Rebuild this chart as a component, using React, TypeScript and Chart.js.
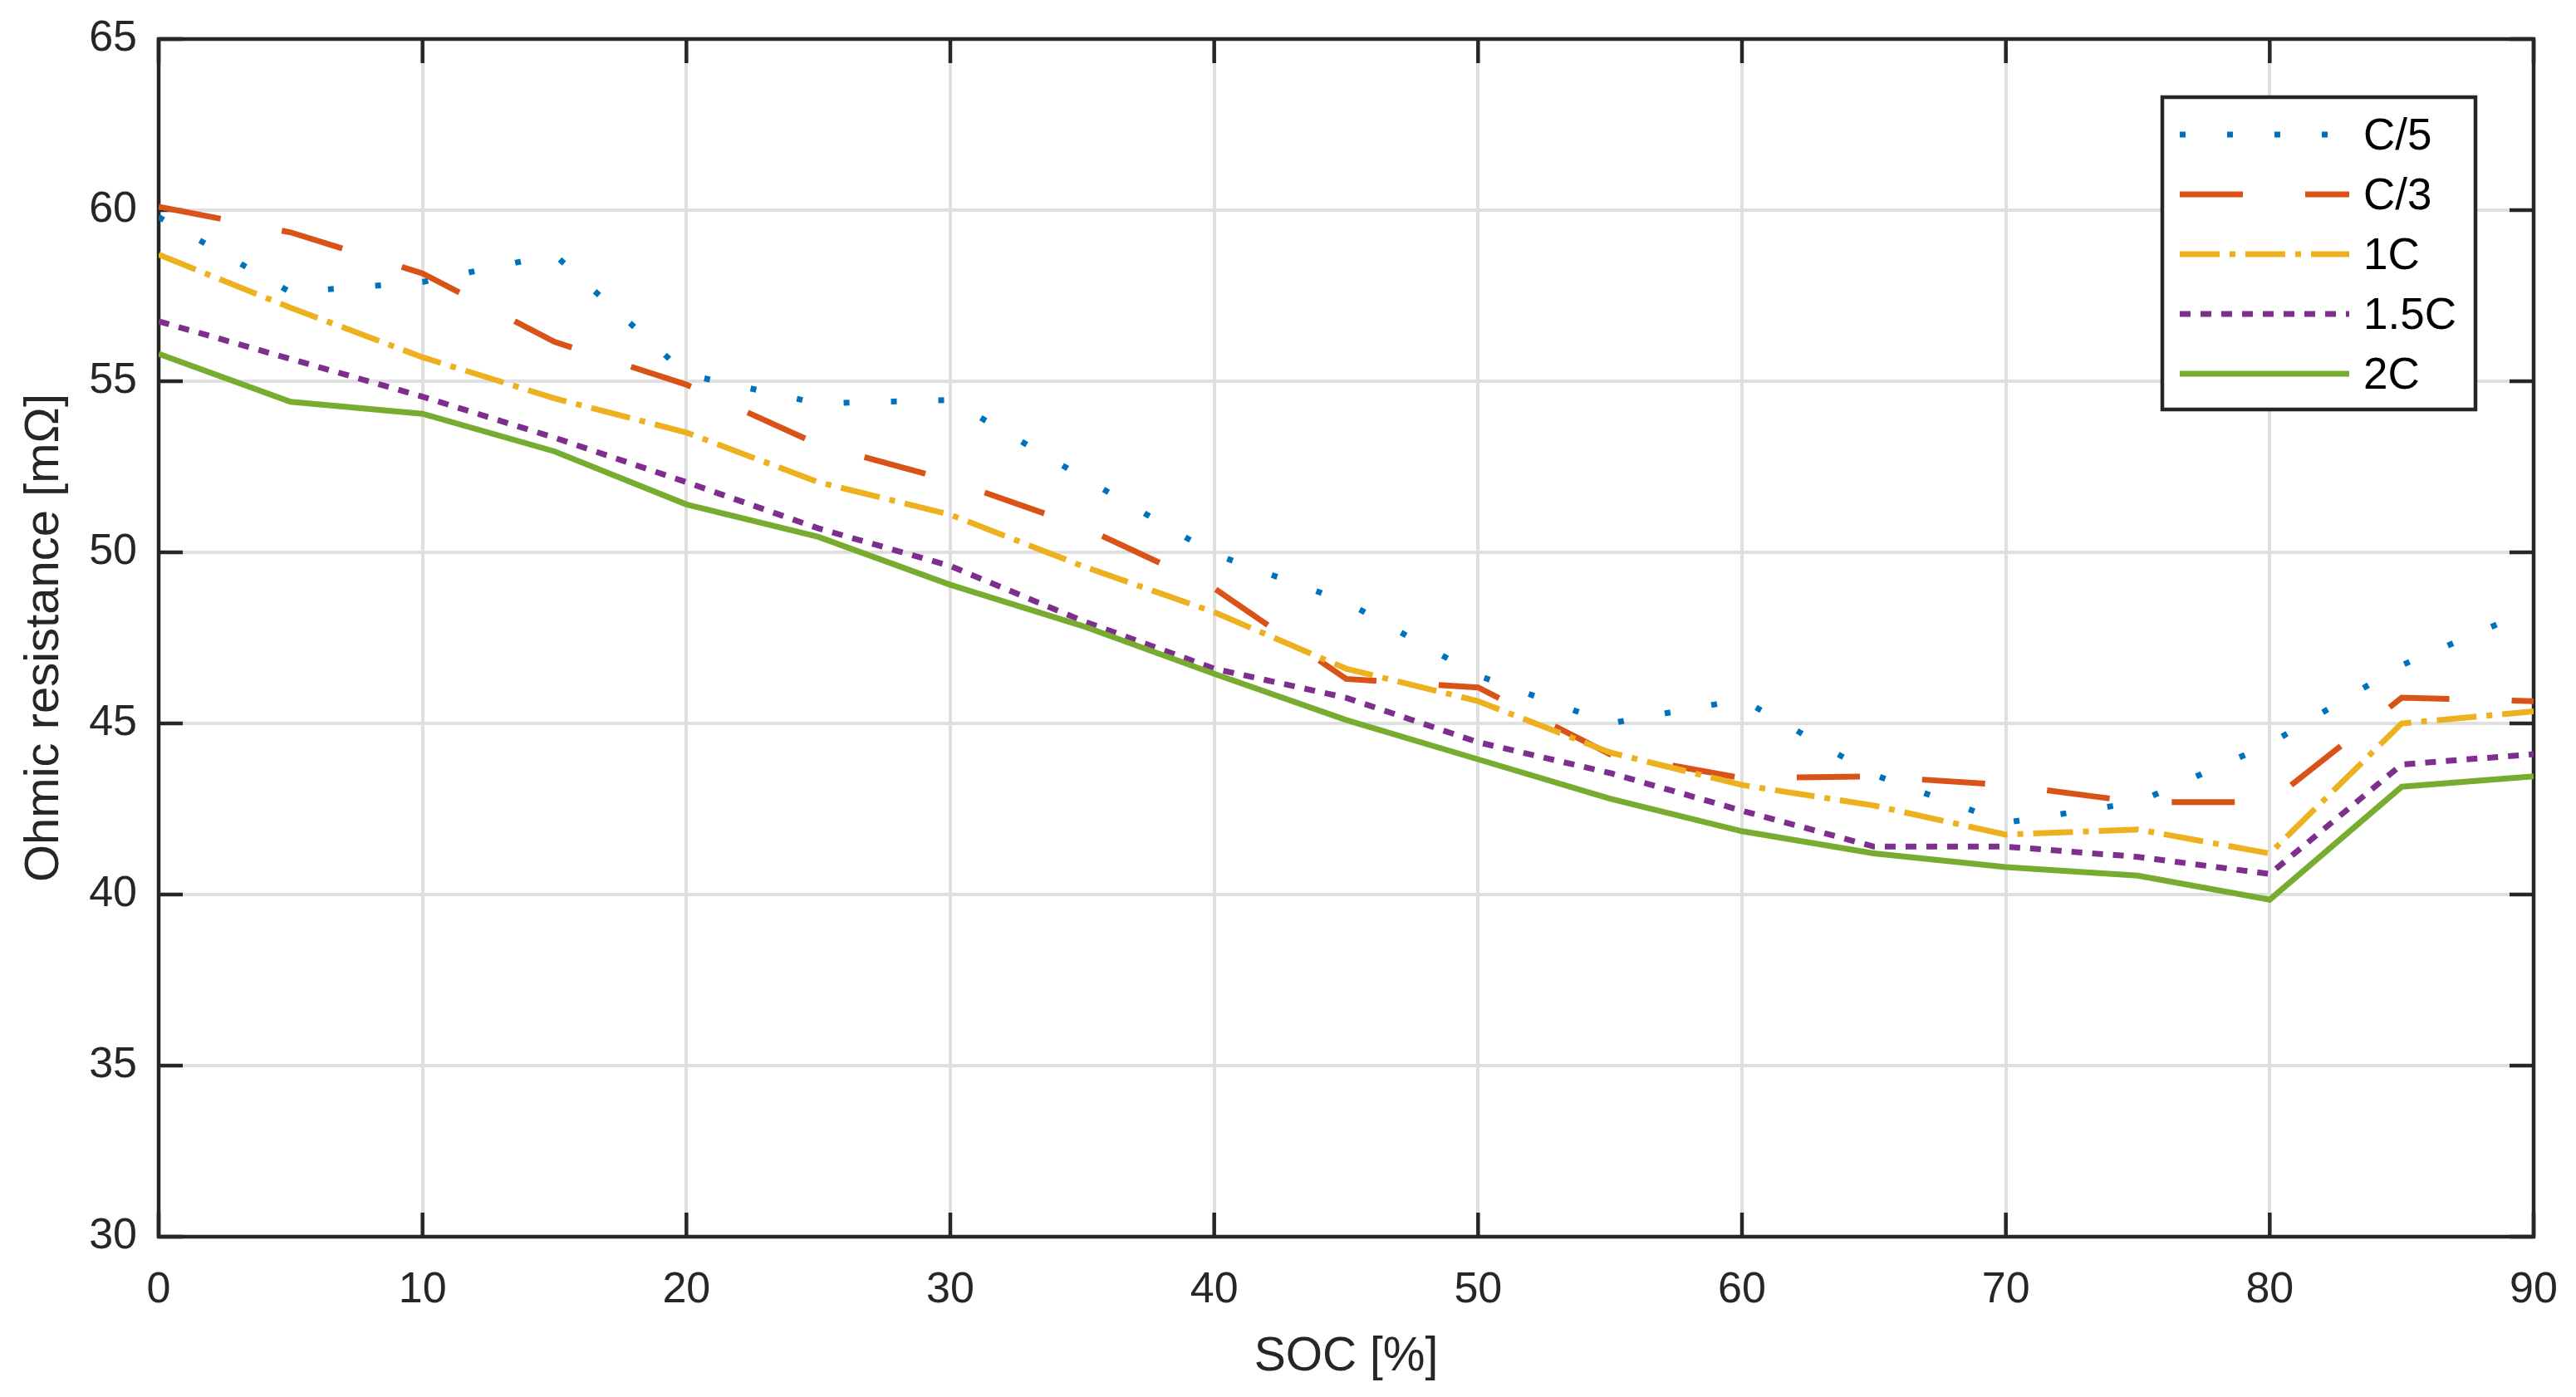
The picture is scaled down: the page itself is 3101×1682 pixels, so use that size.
import { useEffect, useRef } from 'react';
import { Chart, registerables } from 'chart.js';

Chart.register(...registerables);

// SOC [%] sample points
const soc = [0, 5, 10, 15, 20, 25, 30, 35, 40, 45, 50, 55, 60, 65, 70, 75, 80, 85, 90];

// ohmic resistance [mOhm] per C-rate
const rC5 = [59.8, 57.6, 57.9, 58.7, 55.2, 54.35, 54.45, 52.2, 49.95, 48.55, 46.4, 45.0, 45.7, 43.5, 42.1, 42.7, 44.4, 46.7, 48.35];
const rC3 = [60.1, 59.35, 58.15, 56.15, 54.9, 53.15, 52.1, 50.75, 48.95, 46.3, 46.05, 44.1, 43.4, 43.45, 43.2, 42.7, 42.7, 45.75, 45.65];
const r1C = [58.7, 57.15, 55.7, 54.5, 53.5, 52.05, 51.1, 49.6, 48.25, 46.6, 45.65, 44.15, 43.2, 42.6, 41.75, 41.9, 41.2, 45.0, 45.35];
const r15C = [56.75, 55.65, 54.55, 53.35, 52.05, 50.7, 49.6, 48.0, 46.6, 45.75, 44.45, 43.55, 42.45, 41.4, 41.4, 41.1, 40.6, 43.8, 44.1];
const r2C = [55.8, 54.4, 54.05, 52.95, 51.4, 50.45, 49.05, 47.85, 46.45, 45.1, 43.95, 42.8, 41.85, 41.2, 40.8, 40.55, 39.85, 43.15, 43.45];

const seriesNames = ['C/5', 'C/3', '1C', '1.5C', '2C'];
const seriesValues = [rC5, rC3, r1C, r15C, r2C];
const seriesColors = ['#0072BD', '#D95319', '#EDB120', '#7E2F8E', '#77AC30'];
const seriesDashes = [[7, 50], [76, 75], [48, 12, 7, 12], [13, 12], []];

const FONT = '"Liberation Sans", Arial, sans-serif';
const AXIS_COLOR = '#262626';

// box around the axes with inward tick marks, like MATLAB's "box on"
const framePlugin = {
  id: 'frame',
  beforeDatasetsDraw(chart: any) {
    const { ctx, chartArea, scales } = chart;
    const { left, right, top, bottom } = chartArea;
    const tick = 29;
    ctx.save();
    ctx.strokeStyle = AXIS_COLOR;
    ctx.lineWidth = 4.5;
    ctx.beginPath();
    scales.x.ticks.forEach((t: any) => {
      const px = scales.x.getPixelForValue(t.value);
      ctx.moveTo(px, bottom);
      ctx.lineTo(px, bottom - tick);
      ctx.moveTo(px, top);
      ctx.lineTo(px, top + tick);
    });
    scales.y.ticks.forEach((t: any) => {
      const py = scales.y.getPixelForValue(t.value);
      ctx.moveTo(left, py);
      ctx.lineTo(left + tick, py);
      ctx.moveTo(right, py);
      ctx.lineTo(right - tick, py);
    });
    ctx.stroke();
    ctx.strokeRect(left, top, right - left, bottom - top);
    ctx.restore();
  },
};

// legend box in the upper right with the real line styles
const legendPlugin = {
  id: 'boxLegend',
  afterDatasetsDraw(chart: any) {
    const { ctx, chartArea } = chart;
    const bx = chartArea.right - 447;
    const by = chartArea.top + 70;
    const w = 377;
    const h = 376;
    ctx.save();
    ctx.fillStyle = '#ffffff';
    ctx.fillRect(bx, by, w, h);
    ctx.strokeStyle = AXIS_COLOR;
    ctx.lineWidth = 4.5;
    ctx.strokeRect(bx, by, w, h);
    chart.data.datasets.forEach((ds: any, i: number) => {
      const cy = by + 45 + i * 72;
      ctx.strokeStyle = ds.borderColor;
      ctx.lineWidth = ds.borderWidth;
      ctx.lineCap = 'butt';
      ctx.setLineDash(ds.borderDash || []);
      ctx.beginPath();
      ctx.moveTo(bx + 21, cy);
      ctx.lineTo(bx + 225, cy);
      ctx.stroke();
      ctx.setLineDash([]);
      ctx.fillStyle = '#000000';
      ctx.font = `53px ${FONT}`;
      ctx.textBaseline = 'middle';
      ctx.textAlign = 'left';
      ctx.fillText(ds.label, bx + 242, cy + 3);
    });
    ctx.restore();
  },
};

export default function App() {
  const canvasRef = useRef<HTMLCanvasElement | null>(null);

  useEffect(() => {
    if (canvasRef.current === null) return () => {};
    const chart = new Chart(canvasRef.current, {
      type: 'line',
      data: {
        datasets: seriesNames.map((name, i) => ({
          label: name,
          data: seriesValues[i].map((v, j) => ({ x: soc[j], y: v })),
          borderColor: seriesColors[i],
          backgroundColor: seriesColors[i],
          borderWidth: 7,
          borderDash: seriesDashes[i],
          borderCapStyle: 'butt' as const,
          pointRadius: 0,
          tension: 0,
          fill: false,
          order: seriesNames.length - i,
        })),
      },
      options: {
        animation: false,
        responsive: false,
        devicePixelRatio: 1,
        layout: { padding: { left: 0, top: 47, right: 51, bottom: 0 } },
        plugins: {
          legend: { display: false },
          tooltip: { enabled: false },
        },
        scales: {
          x: {
            type: 'linear',
            min: 0,
            max: 90,
            afterFit: (scale: any) => {
              scale.height = 193;
              scale.paddingLeft = 0;
              scale.paddingRight = 0;
            },
            border: { display: false },
            grid: { color: '#dfdfdf', lineWidth: 4, drawTicks: false },
            ticks: {
              stepSize: 10,
              padding: 33,
              color: AXIS_COLOR,
              font: { family: FONT, size: 52 },
              maxRotation: 0,
            },
            title: {
              display: true,
              text: 'SOC [%]',
              color: AXIS_COLOR,
              font: { family: FONT, size: 57 },
              padding: { top: 0, bottom: 14 },
            },
          },
          y: {
            min: 30,
            max: 65,
            afterFit: (scale: any) => {
              scale.width = 191;
              scale.paddingTop = 0;
              scale.paddingBottom = 0;
            },
            border: { display: false },
            grid: { color: '#dfdfdf', lineWidth: 4, drawTicks: false },
            ticks: {
              stepSize: 5,
              padding: 26,
              color: AXIS_COLOR,
              font: { family: FONT, size: 52 },
            },
            title: {
              display: true,
              text: 'Ohmic resistance [mΩ]',
              color: AXIS_COLOR,
              font: { family: FONT, size: 58 },
              padding: { top: 19, bottom: 0 },
            },
          },
        },
      },
      plugins: [framePlugin, legendPlugin],
    });
    return () => {
      chart.destroy();
    };
  }, []);

  return (
    <div style={{ position: 'fixed', left: 0, top: 0, width: 3101, height: 1682, background: '#ffffff' }}>
      <canvas ref={canvasRef} width={3101} height={1682} />
    </div>
  );
}
